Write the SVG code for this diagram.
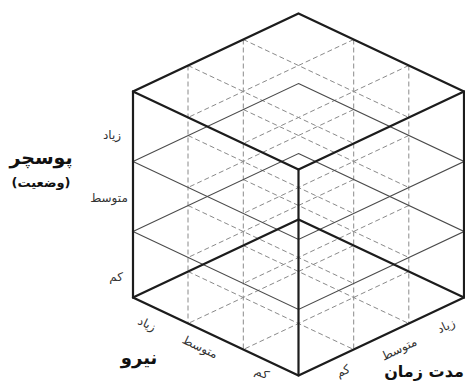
<svg xmlns="http://www.w3.org/2000/svg" width="465" height="383" viewBox="0 0 465 383">
<style>
.thick{fill:none;stroke:#1c1c1c;stroke-width:2.2;stroke-linejoin:miter;stroke-linecap:round}
.layer{fill:none;stroke:#4a4a4a;stroke-width:1.1}
.dash{fill:none;stroke:#8a8a8a;stroke-width:1;stroke-dasharray:5 3}
.lbl{font-family:"DejaVu Sans",sans-serif;font-size:12px;fill:#333;text-anchor:middle}
.ttl{font-family:"DejaVu Sans",sans-serif;font-weight:bold;fill:#111;text-anchor:middle}
</style>
<rect width="465" height="383" fill="#fff"/>
<g id="connectors">
<g id="dashed-grid">
<line class="dash" x1="188" y1="65.5" x2="188" y2="323.5"/>
<line class="dash" x1="243.3" y1="39.5" x2="243.3" y2="349.5"/>
<line class="dash" x1="353.7" y1="39.5" x2="353.7" y2="349.5"/>
<line class="dash" x1="408.8" y1="65.5" x2="408.8" y2="323.5"/>
<g id="lvl0">
<line class="dash" x1="243.3" y1="39.5" x2="408.8" y2="117.5"/>
<line class="dash" x1="188" y1="65.5" x2="353.7" y2="143.5"/>
<line class="dash" x1="353.7" y1="39.5" x2="188" y2="117.5"/>
<line class="dash" x1="408.8" y1="65.5" x2="243.3" y2="143.5"/>
</g>
<g transform="translate(0,70)">
<line class="dash" x1="243.3" y1="39.5" x2="408.8" y2="117.5"/>
<line class="dash" x1="188" y1="65.5" x2="353.7" y2="143.5"/>
<line class="dash" x1="353.7" y1="39.5" x2="188" y2="117.5"/>
<line class="dash" x1="408.8" y1="65.5" x2="243.3" y2="143.5"/>
</g>
<g transform="translate(0,140)">
<line class="dash" x1="243.3" y1="39.5" x2="408.8" y2="117.5"/>
<line class="dash" x1="188" y1="65.5" x2="353.7" y2="143.5"/>
<line class="dash" x1="353.7" y1="39.5" x2="188" y2="117.5"/>
<line class="dash" x1="408.8" y1="65.5" x2="243.3" y2="143.5"/>
</g>
<g transform="translate(0,206)">
<line class="dash" x1="243.3" y1="39.5" x2="408.8" y2="117.5"/>
<line class="dash" x1="188" y1="65.5" x2="353.7" y2="143.5"/>
<line class="dash" x1="353.7" y1="39.5" x2="188" y2="117.5"/>
<line class="dash" x1="408.8" y1="65.5" x2="243.3" y2="143.5"/>
</g>
</g>
<g id="layers">
<polygon class="layer" points="298.5,83.5 464,161.5 298.5,239.5 133,161.5"/>
<polygon class="layer" points="298.5,153.5 464,231.5 298.5,309.5 133,231.5"/>
</g>
<g id="cube-edges">
<polygon class="thick" points="298.5,13.5 464,91.5 464,297.5 298.5,375.5 133,297.5 133,91.5"/>
<polyline class="thick" points="133,91.5 298.5,169.5 464,91.5"/>
<line class="thick" x1="298.5" y1="169.5" x2="298.5" y2="375.5"/>
<polyline class="thick" points="133,297.5 298.5,219.5 464,297.5"/>
</g>
</g>
<g id="axis-posture">
<text class="ttl" x="41" y="164" font-size="19">پوسچر</text>
<text class="ttl" x="41" y="187" font-size="13">(وضعیت)</text>
<text class="lbl" x="112" y="139">زیاد</text>
<text class="lbl" x="109" y="202">متوسط</text>
<text class="lbl" x="116" y="281">کم</text>
</g>
<g id="axis-force">
<text class="ttl" x="139" y="364" font-size="18">نیرو</text>
<text class="lbl" transform="translate(147,324) rotate(25.3)" y="4">زیاد</text>
<text class="lbl" transform="translate(200,347) rotate(25.3)" y="4">متوسط</text>
<text class="lbl" transform="translate(262,373) rotate(25.3)" y="4">کم</text>
</g>
<g id="axis-duration">
<text class="ttl" x="424" y="377" font-size="16">مدت زمان</text>
<text class="lbl" transform="translate(343,371) rotate(-25.3)" y="4">کم</text>
<text class="lbl" transform="translate(399,349) rotate(-25.3)" y="4">متوسط</text>
<text class="lbl" transform="translate(446,326) rotate(-25.3)" y="4">زیاد</text>
</g>
</svg>
